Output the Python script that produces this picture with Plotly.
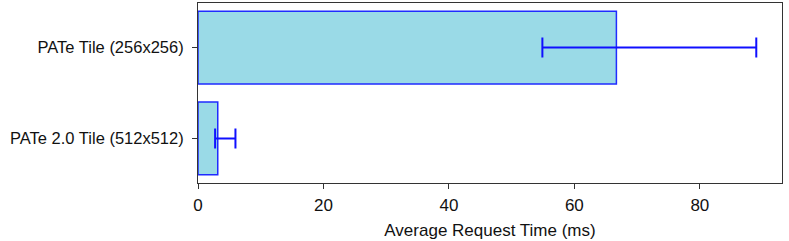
import plotly.graph_objects as go

categories = ["PATe 2.0 Tile (512x512)", "PATe Tile (256x256)"]
means = [3.15, 66.7]
err_minus = [0.42, 11.8]
err_plus = [2.82, 22.3]
x_ticks = [0, 20, 40, 60, 80]

fig = go.Figure(go.Bar(
    y=categories, x=means, orientation="h", width=0.8,
    marker=dict(color="#9adae7", line=dict(color="#1f2bff", width=1.5)),
    error_x=dict(type="data", symmetric=False, array=err_plus, arrayminus=err_minus,
                 color="#1010ff", thickness=2, width=10),
))

fig.update_layout(
    width=789, height=241,
    margin=dict(l=198, r=7, t=3, b=58),
    plot_bgcolor="white", paper_bgcolor="white",
    font=dict(family="Liberation Sans, Arial, sans-serif", size=17, color="#111"),
    showlegend=False,
    xaxis=dict(range=[0, 93.1], tickvals=x_ticks, showgrid=False, zeroline=False,
               showline=True, mirror=True, linecolor="#333", linewidth=1,
               ticks="outside", ticklen=5, tickcolor="#333",
               tickfont=dict(size=17), ticklabelstandoff=2,
               title=dict(text="Average Request Time (ms)", standoff=9, font=dict(size=17))),
    yaxis=dict(range=[-0.49, 1.49], showgrid=False, zeroline=False,
               showline=True, mirror=True, linecolor="#333", linewidth=1,
               ticks="outside", ticklen=5, tickcolor="#333",
               tickfont=dict(size=16.5), ticklabelstandoff=5),
)

fig.write_html("out.html")
